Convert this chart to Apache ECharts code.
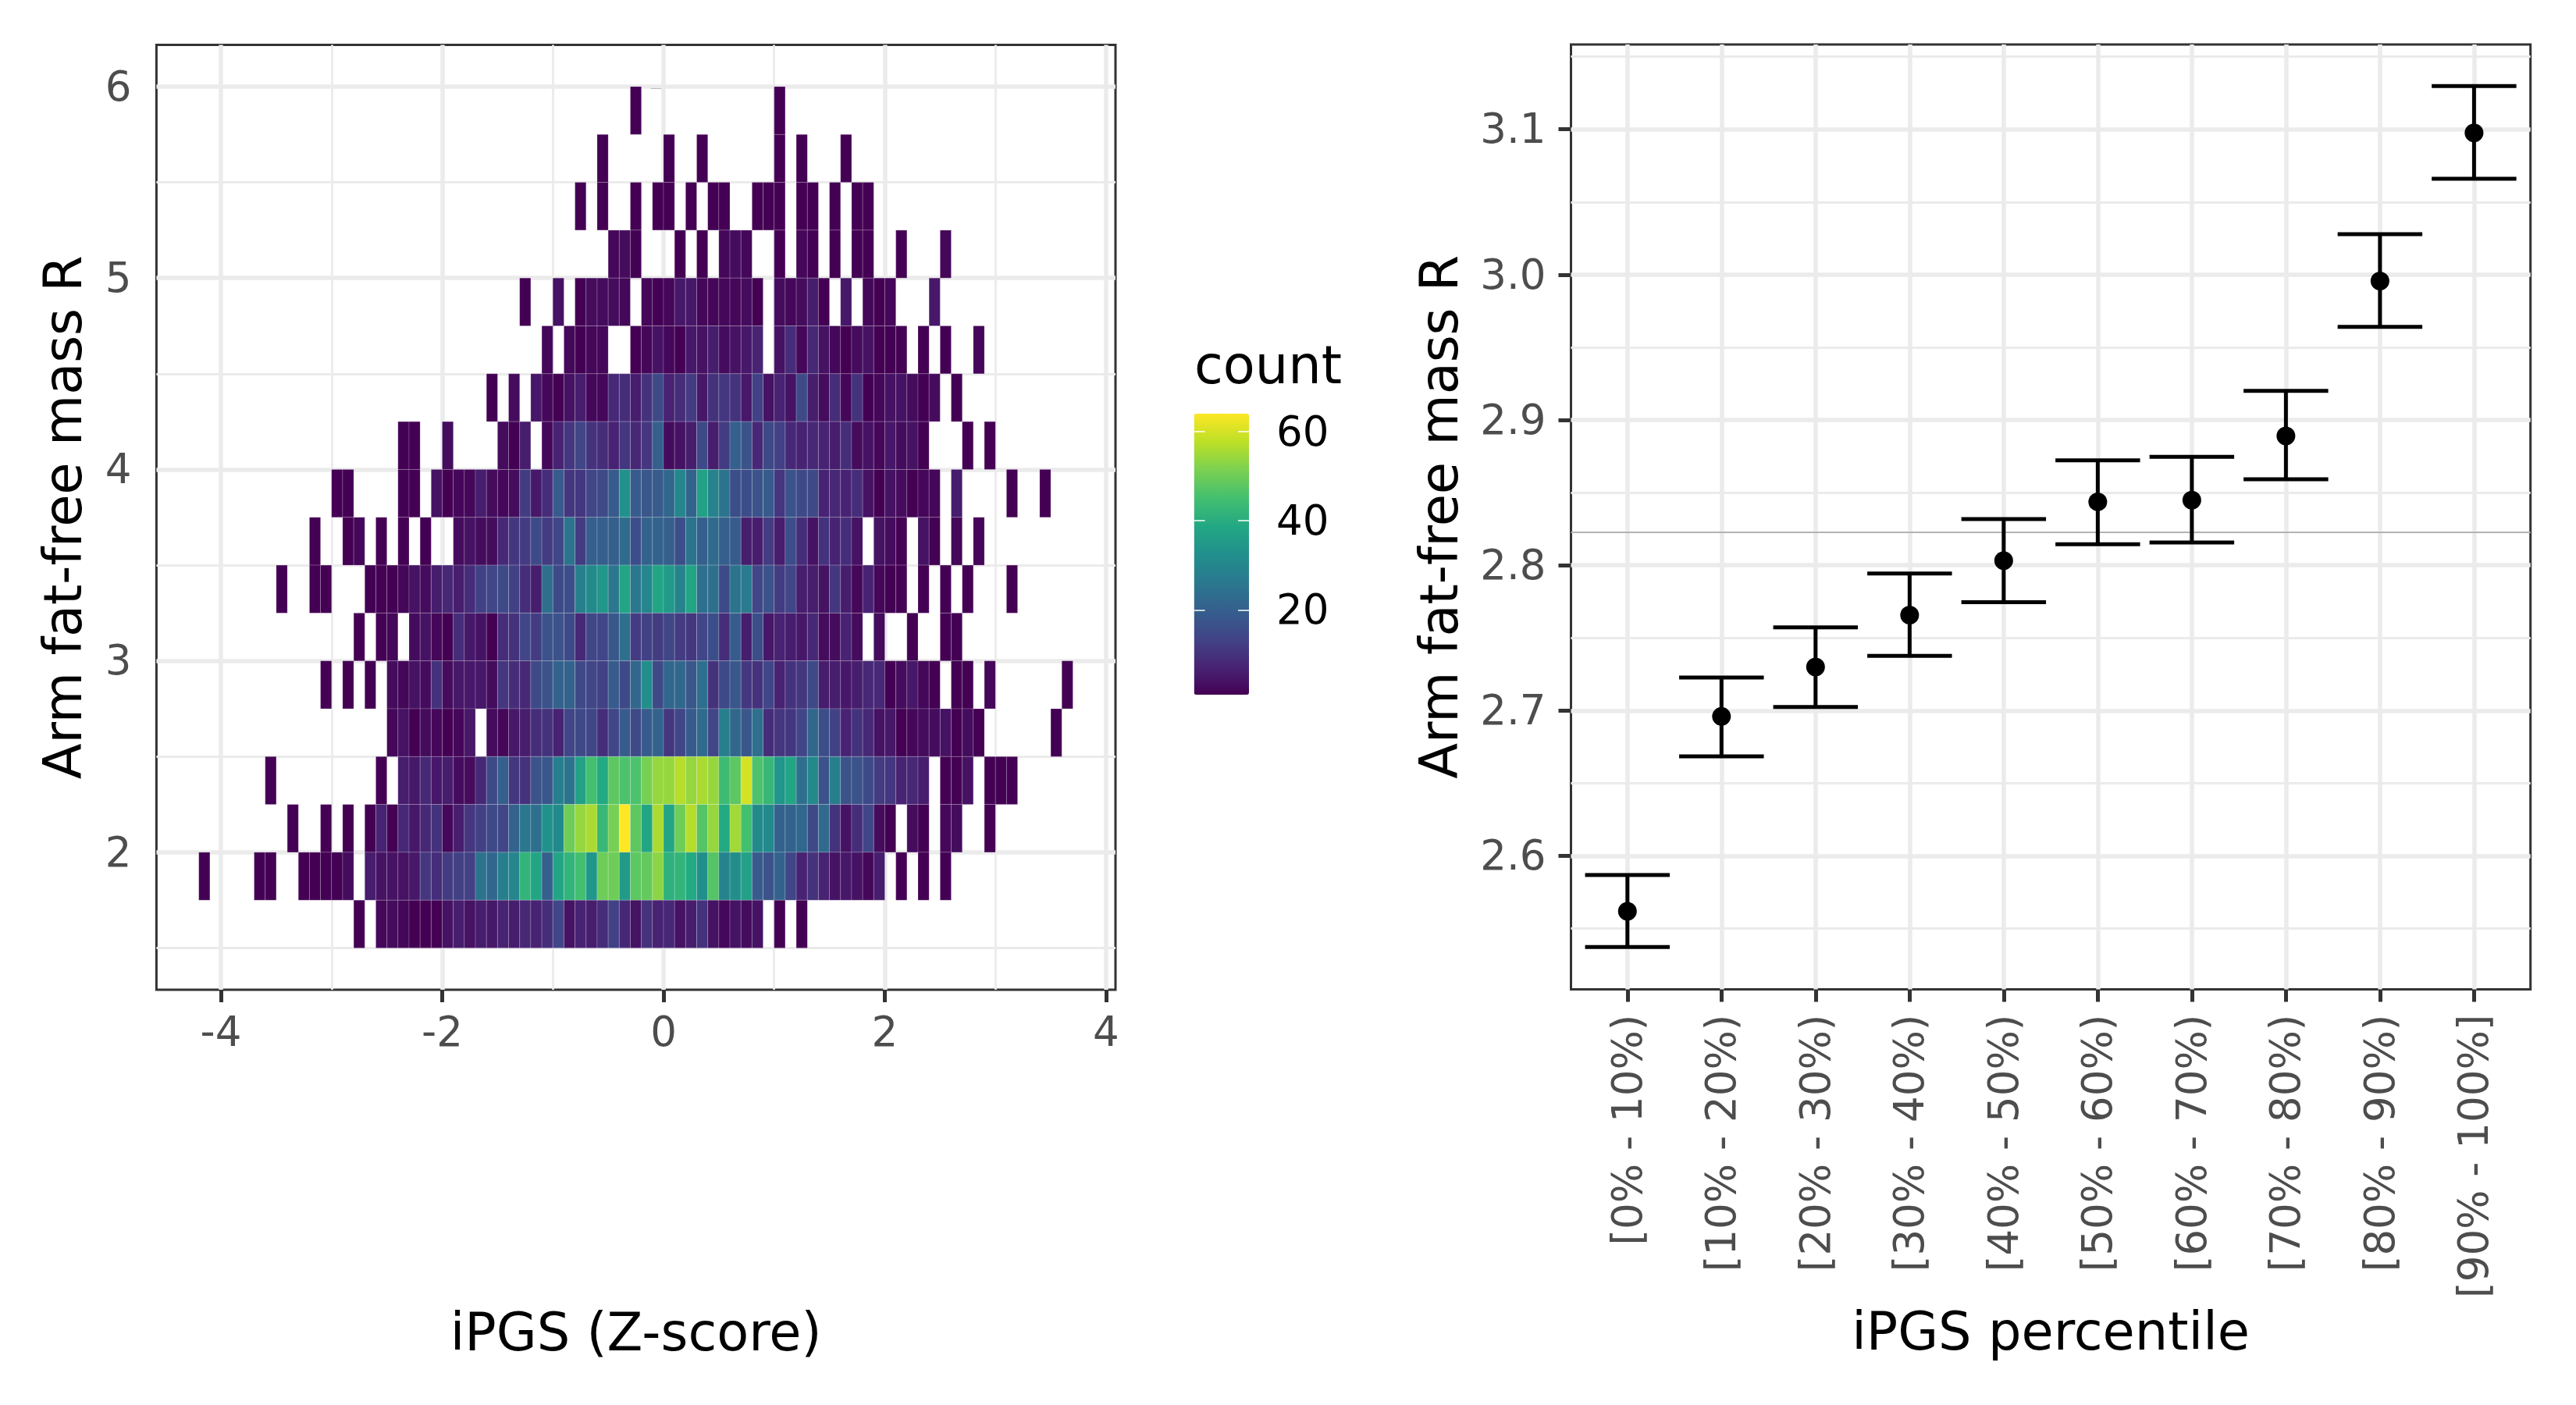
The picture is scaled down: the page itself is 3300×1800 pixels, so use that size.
<!DOCTYPE html>
<html><head><meta charset="utf-8">
<style>html,body{margin:0;padding:0;background:#fff}#c{width:3300px;height:1800px}</style>
<script src="https://cdn.jsdelivr.net/npm/echarts@6/dist/echarts.min.js"></script>
</head><body><div id="c"></div>
<script>
// ---- left panel: 2D histogram counts, one array per y bin, each starting at bin index first*0.1
const binWidth = 0.1, binHeight = 0.25;
const rowBottoms = [5.75,5.5,5.25,5,4.75,4.5,4.25,4,3.75,3.5,3.25,3,2.75,2.5,2.25,2,1.75,1.5];
const rowFirst = [-3,-6,-8,-5,-13,-11,-16,-24,-30,-32,-35,-28,-31,-25,-36,-34,-42,-28];
const row575 = [1,0,0,0,0,0,0,0,0,0,0,0,0,1];
const row550 = [1,0,0,0,0,0,1,0,0,1,0,0,0,0,0,0,1,0,1,0,0,0,1];
const row525 = [1,0,1,0,0,1,0,1,1,0,1,0,1,1,0,0,1,1,1,0,1,1,0,1,0,1,1];
const row500 = [2,3,1,0,0,0,1,0,1,0,2,3,2,0,0,1,0,2,1,0,1,0,1,1,0,0,1,0,0,0,2];
const row475 = [1,0,0,4,0,1,3,3,3,2,0,2,1,2,5,5,2,2,2,2,3,1,0,3,2,3,6,1,0,5,0,2,1,2,0,0,0,5];
const row450 = [2,0,2,1,2,2,0,0,1,2,4,2,1,5,4,6,3,4,5,7,0,4,9,2,8,4,2,1,3,4,1,1,1,0,1,0,1,0,0,2];
const row425 = [1,0,3,0,5,2,1,4,6,2,2,8,9,6,10,15,7,9,12,5,10,11,10,5,13,4,7,4,15,6,3,9,2,10,1,2,4,4,3,1,3,0,1];
const row400 = [1,1,0,0,3,0,0,0,0,3,1,6,0,2,7,11,14,10,9,7,11,8,11,20,3,4,6,15,6,12,20,17,8,15,13,8,7,8,7,6,9,3,4,2,5,3,4,1,0,0,0,1,0,1];
const row375 = [1,1,0,0,0,0,1,1,0,4,1,2,2,6,3,2,3,12,5,9,19,11,11,14,15,19,33,19,18,19,22,30,21,37,29,25,16,16,17,19,11,17,15,15,7,8,7,9,4,1,4,3,1,2,2,0,6,0,0,0,0,1,0,0,1];
const row350 = [1,0,0,1,2,0,1,0,1,0,1,0,0,3,4,3,3,8,11,12,15,12,14,25,12,20,20,20,23,16,21,21,20,16,25,20,23,20,19,6,6,12,6,16,9,4,10,7,9,4,0,4,3,1,0,4,1,0,2,0,2];
const row325 = [1,0,0,1,1,0,0,0,1,1,1,2,4,3,6,8,6,9,13,14,15,13,9,6,24,15,16,28,31,34,26,38,26,30,38,35,29,38,24,24,15,25,27,14,17,12,14,6,6,4,11,6,2,7,2,1,1,0,1,0,1,0,1,0,0,0,1];
const row300 = [1,0,1,2,0,3,4,2,1,9,5,4,1,9,10,14,12,17,17,15,8,14,14,18,24,12,13,12,14,12,11,14,16,9,19,6,16,5,7,6,5,8,3,3,7,3,0,3,0,0,1,0,0,1,1];
const row275 = [1,0,1,0,1,0,3,2,4,3,10,3,5,5,5,3,11,9,8,15,17,21,21,15,14,13,19,15,22,32,15,22,22,18,24,10,15,18,11,10,14,7,10,11,15,6,6,5,6,8,8,1,3,5,2,1,0,1,1,0,2,0,0,0,0,0,0,1];
const row250 = [2,4,1,3,2,1,2,5,0,3,2,5,6,9,10,7,14,15,14,9,14,19,15,19,21,11,14,19,23,14,28,22,18,24,9,11,11,14,22,16,13,7,10,8,4,5,1,2,3,3,4,1,3,1,0,0,0,0,0,0,1];
const row225 = [1,0,0,0,0,0,0,0,0,0,1,0,6,5,8,5,6,3,3,8,15,20,11,10,17,18,28,25,37,45,39,48,46,46,51,54,54,57,54,56,54,44,48,60,46,43,34,38,24,31,17,28,17,17,15,12,11,7,8,6,0,1,1,4,0,1,1,1];
const row200 = [1,0,0,1,0,1,0,1,7,1,8,5,8,10,2,6,11,13,15,14,21,26,24,33,31,50,54,56,43,51,64,48,38,56,38,50,57,47,54,39,55,45,31,31,21,21,22,15,23,10,4,9,14,3,1,0,3,1,0,2,3,0,0,1];
const row175 = [1,0,0,0,0,1,1,0,0,1,1,1,1,3,0,6,4,4,4,5,11,9,12,13,13,25,22,28,30,42,38,20,38,42,45,34,50,50,35,48,49,53,41,42,39,32,47,29,32,37,19,17,21,14,7,10,7,4,5,4,2,6,0,1,0,1,0,1];
const row150 = [1,0,2,3,2,1,1,1,4,6,4,6,5,7,6,8,7,9,14,4,7,6,9,13,8,4,10,7,8,4,6,10,4,2,4,3,4,0,1,0,1];
const rows = [row575,row550,row525,row500,row475,row450,row425,row400,row375,row350,row325,row300,row275,row250,row225,row200,row175,row150];
const leftXTicks = [-4,-2,0,2,4], leftXMinor = [-3,-1,1,3];
const leftYTicks = [2,3,4,5,6], leftYMinor = [1.5,2.5,3.5,4.5,5.5];
const legendTicks = [20,40,60];
const viridis = ['#440154','#482475','#414487','#355f8d','#2a788e','#21908c','#22a884','#44bf70','#7ad151','#bddf26','#fde725'];

// ---- right panel: mean and interval per percentile
const percentiles = ['[0% - 10%)','[10% - 20%)','[20% - 30%)','[30% - 40%)','[40% - 50%)','[50% - 60%)','[60% - 70%)','[70% - 80%)','[80% - 90%)','[90% - 100%]'];
const means = [2.5619,2.696,2.73,2.7657,2.8032,2.8437,2.8449,2.889,2.9957,3.0976];
const lowers = [2.5374,2.6685,2.7025,2.7377,2.7746,2.8145,2.8157,2.8592,2.9641,3.066];
const uppers = [2.5869,2.7228,2.7573,2.7943,2.8318,2.8723,2.8747,2.92,3.0279,3.1298];
const overallMean = 2.8229;
const rightYTicks = [2.6,2.7,2.8,2.9,3.0,3.1], rightYMinor = [2.55,2.65,2.75,2.85,2.95,3.05,3.15];
const capHalf = 0.45;

const FONT = 'DejaVu Sans', TICK = '#4d4d4d', GRID = '#ebebeb', BORDER = '#333333';
const TICKSIZE = 53, TITLESIZE = 67;

const cells = [];
rows.forEach((r, k) => r.forEach((c, j) => {
  if (c > 0) cells.push([(rowFirst[k] + j) * binWidth, rowBottoms[k], c]);
}));
const xVals = percentiles.map((_, i) => i + 1);

function gridLines(xMaj, xMin, yMaj, yMin) {
  const mk = (key, v, w) => ({ [key]: v, lineStyle: { color: GRID, width: w, type: 'solid' } });
  return [].concat(
    xMin.map(v => mk('xAxis', v, 2.8)), yMin.map(v => mk('yAxis', v, 2.8)),
    xMaj.map(v => mk('xAxis', v, 5.5)), yMaj.map(v => mk('yAxis', v, 5.5)));
}
const marker = data => ({ silent: true, symbol: 'none', label: { show: false }, animation: false, precision: 4, z: 1, data });
const axisText = { fontFamily: FONT, fontSize: TICKSIZE, color: TICK };
const nudged = color => ({ a: { fontFamily: FONT, fontSize: TICKSIZE, color: color, padding: [8, 0, 0, 0] } });
const nameText = { fontFamily: FONT, fontSize: TITLESIZE, color: '#000' };
const tickStyle = { show: true, length: 16, lineStyle: { color: BORDER, width: 5 } };

const option = {
  animation: false,
  backgroundColor: '#fff',
  textStyle: { fontFamily: FONT },
  title: { text: 'count', left: 1530, top: 440, padding: 0,
    textStyle: { fontFamily: FONT, fontSize: TITLESIZE, color: '#000', fontWeight: 'normal' } },
  visualMap: { type: 'continuous', seriesIndex: 0, dimension: 2, min: 1, max: 64,
    show: true, calculable: false, hoverLink: false, padding: 0, itemWidth: 70.4, itemHeight: 360,
    left: 1529.6, top: 530, text: null, inRange: { color: viridis } },
  grid: [
    { left: 200.4, top: 57.5, width: 1228.6, height: 1210.5, show: true, borderColor: BORDER, borderWidth: 3, backgroundColor: 'transparent', containLabel: false },
    { left: 2012.5, top: 57, width: 1229.2, height: 1210.5, show: true, borderColor: BORDER, borderWidth: 3, backgroundColor: 'transparent', containLabel: false },
    { left: 1529.6, top: 530, width: 70.4, height: 360, show: false, containLabel: false }
  ],
  xAxis: [
    { gridIndex: 0, type: 'value', min: -4.583, max: 4.085,
      axisLine: { show: false }, splitLine: { show: false },
      axisTick: Object.assign({ customValues: leftXTicks }, tickStyle),
      axisLabel: Object.assign({ customValues: leftXTicks, margin: 32 }, axisText),
      name: 'iPGS (Z-score)', nameLocation: 'middle', nameGap: 411, nameTextStyle: nameText },
    { gridIndex: 1, type: 'value', min: 0.4, max: 10.6,
      axisLine: { show: false }, splitLine: { show: false },
      axisTick: Object.assign({ customValues: xVals }, tickStyle),
      axisLabel: Object.assign({ customValues: xVals, margin: 32, rotate: 90, rich: nudged(TICK),
        formatter: v => '{a|' + percentiles[Math.round(v) - 1] + '}' }, axisText),
      name: 'iPGS percentile', nameLocation: 'middle', nameGap: 411, nameTextStyle: nameText },
    { gridIndex: 2, type: 'value', min: 0, max: 1, show: false }
  ],
  yAxis: [
    { gridIndex: 0, type: 'value', min: 1.282, max: 6.218,
      axisLine: { show: false }, splitLine: { show: false },
      axisTick: Object.assign({ customValues: leftYTicks }, tickStyle),
      axisLabel: Object.assign({ customValues: leftYTicks, margin: 32, rich: nudged(TICK), formatter: v => '{a|' + v + '}' }, axisText),
      name: 'Arm fat-free mass R', nameLocation: 'middle', nameRotate: 90, nameGap: 80, nameTextStyle: nameText },
    { gridIndex: 1, type: 'value', min: 2.5082, max: 3.1584,
      axisLine: { show: false }, splitLine: { show: false },
      axisTick: Object.assign({ customValues: rightYTicks }, tickStyle),
      axisLabel: Object.assign({ customValues: rightYTicks, margin: 32, rich: nudged(TICK), formatter: v => '{a|' + v.toFixed(1) + '}' }, axisText),
      name: 'Arm fat-free mass R', nameLocation: 'middle', nameRotate: 90, nameGap: 129, nameTextStyle: nameText },
    { gridIndex: 2, type: 'value', min: 1, max: 64, position: 'left', z: 10,
      axisLine: { show: false }, splitLine: { show: false }, axisLabel: { show: false },
      axisTick: { show: true, inside: true, length: 14, customValues: legendTicks, lineStyle: { color: '#fff', width: 1.5 } } },
    { gridIndex: 2, type: 'value', min: 1, max: 64, position: 'right', z: 10,
      axisLine: { show: false }, splitLine: { show: false },
      axisTick: { show: true, inside: true, length: 14, customValues: legendTicks, lineStyle: { color: '#fff', width: 1.5 } },
      axisLabel: { show: true, customValues: legendTicks, margin: 35, rich: nudged('#000'), formatter: v => '{a|' + v + '}', fontFamily: FONT, fontSize: TICKSIZE, color: '#000' } }
  ],
  series: [
    { type: 'custom', xAxisIndex: 0, yAxisIndex: 0, z: 3, silent: true, data: cells,
      encode: { x: 0, y: 1 },
      renderItem: (p, api) => {
        const a = api.coord([api.value(0), api.value(1) + binHeight]);
        const b = api.coord([api.value(0) + binWidth, api.value(1)]);
        return { type: 'rect', shape: { x: a[0], y: a[1], width: b[0] - a[0], height: b[1] - a[1] },
          style: { fill: api.visual('color'), stroke: 'rgba(255,255,255,0.18)', lineWidth: 1 } };
      } },
    { type: 'line', xAxisIndex: 0, yAxisIndex: 0, z: 1, silent: true, data: [],
      markLine: marker(gridLines(leftXTicks, leftXMinor, leftYTicks, leftYMinor)) },
    { type: 'line', xAxisIndex: 1, yAxisIndex: 1, z: 1, silent: true, data: [],
      markLine: marker(gridLines(xVals, [], rightYTicks, rightYMinor)) },
    { type: 'line', xAxisIndex: 1, yAxisIndex: 1, z: 2, silent: true, data: [],
      markLine: marker([{ yAxis: overallMean, lineStyle: { color: '#b3b3b3', width: 2, type: 'solid' } }]) },
    { type: 'custom', xAxisIndex: 1, yAxisIndex: 1, z: 4, silent: true,
      data: xVals.map((x, i) => [x, lowers[i], uppers[i]]),
      encode: { x: 0, y: [1, 2] },
      renderItem: (p, api) => {
        const x = api.value(0), lo = api.value(1), hi = api.value(2);
        const seg = (u, v) => ({ type: 'line', shape: { x1: u[0], y1: u[1], x2: v[0], y2: v[1] },
          style: { stroke: '#000', lineWidth: 5, fill: null } });
        return { type: 'group', children: [
          seg(api.coord([x, lo]), api.coord([x, hi])),
          seg(api.coord([x - capHalf, lo]), api.coord([x + capHalf, lo])),
          seg(api.coord([x - capHalf, hi]), api.coord([x + capHalf, hi]))
        ] };
      } },
    { type: 'scatter', xAxisIndex: 1, yAxisIndex: 1, z: 5, silent: true, symbol: 'circle', symbolSize: 24,
      itemStyle: { color: '#000', opacity: 1 }, data: xVals.map((x, i) => [x, means[i]]) }
  ]
};
echarts.init(document.getElementById('c'), null, { renderer: 'canvas' }).setOption(option);
</script></body></html>
